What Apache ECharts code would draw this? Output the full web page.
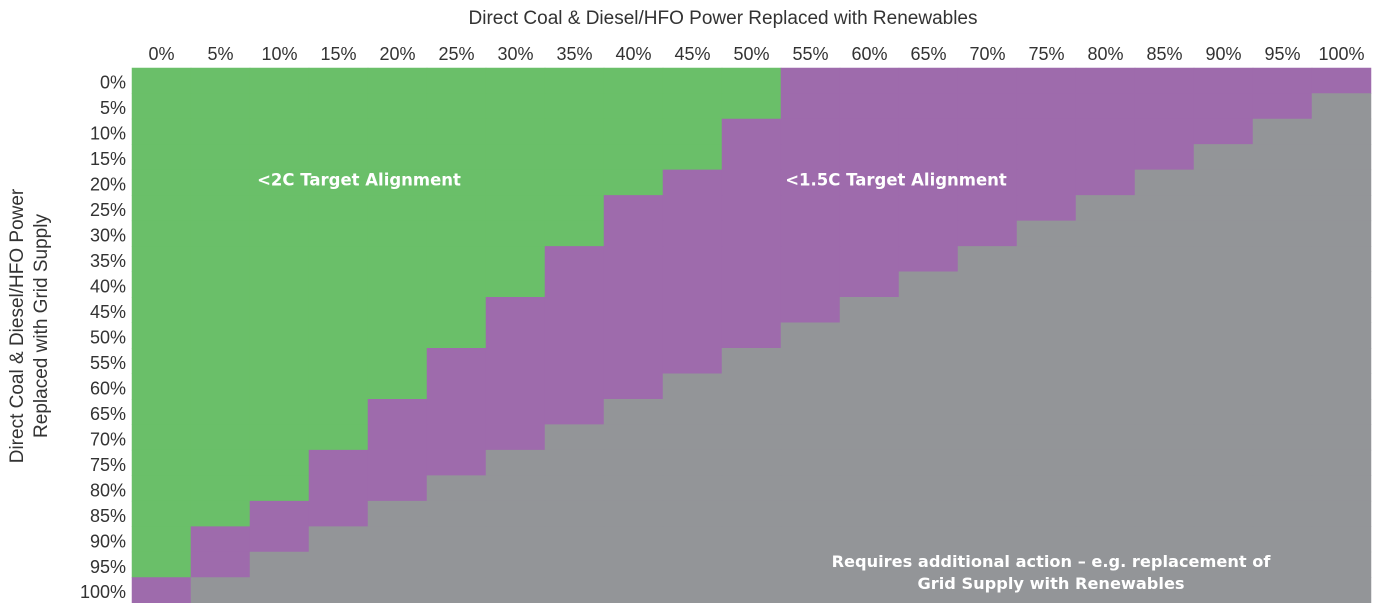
<!DOCTYPE html>
<html>
<head>
<meta charset="utf-8">
<script src="https://cdn.jsdelivr.net/npm/echarts@6/dist/echarts.min.js"></script>
<style>
html,body{margin:0;padding:0;background:#ffffff;}
#chart{width:1378px;height:603px;}
</style>
</head>
<body>
<div id="chart"></div>
<script>
// ---- data ----
const xLabels = ['0%','5%','10%','15%','20%','25%','30%','35%','40%','45%','50%','55%','60%','65%','70%','75%','80%','85%','90%','95%','100%'];
const yLabels = ['0%','5%','10%','15%','20%','25%','30%','35%','40%','45%','50%','55%','60%','65%','70%','75%','80%','85%','90%','95%','100%'];
// per row (grid-supply share), number of leading columns in the green zone
const greenCols = [11,11,10,10,9,8,8,7,7,6,6,5,5,4,4,3,3,2,1,1,0];
// per row, number of leading columns that are green or purple (not grey)
const alignedCols = [21,20,19,18,17,16,15,14,13,12,11,10,9,8,7,6,5,4,3,2,1];
const zoneNames = ['<2C Target Alignment','<1.5C Target Alignment','Requires additional action \u2013 e.g. replacement of\nGrid Supply with Renewables'];
const zoneColors = ['#6abf69','#9e6bac','#939598'];
const xTitle = 'Direct Coal & Diesel/HFO Power Replaced with Renewables';
const yTitle = 'Direct Coal & Diesel/HFO Power\nReplaced with Grid Supply';

// ---- build cells ----
const cells = [];
for (let r = 0; r < yLabels.length; r++) {
  for (let c = 0; c < xLabels.length; c++) {
    const v = c < greenCols[r] ? 0 : (c < alignedCols[r] ? 1 : 2);
    cells.push([c, r, v]);
  }
}

const FONT = 'Liberation Sans';
const BOLD = 'DejaVu Sans';
const chart = echarts.init(document.getElementById('chart'), null, {renderer: 'canvas', devicePixelRatio: 2});
chart.setOption({
  animation: false,
  backgroundColor: '#ffffff',
  textStyle: {fontFamily: FONT},
  grid: {left: 132, right: 7, top: 68, bottom: 0, containLabel: false},
  xAxis: {
    type: 'category',
    data: xLabels,
    position: 'top',
    axisLine: {show: false},
    axisTick: {show: false},
    splitArea: {show: false},
    axisLabel: {color: '#333333', fontSize: 18, lineHeight: 18, fontFamily: FONT, margin: 4, interval: 0}
  },
  yAxis: {
    type: 'category',
    data: yLabels,
    inverse: true,
    axisLine: {show: false},
    axisTick: {show: false},
    splitArea: {show: false},
    axisLabel: {color: '#333333', fontSize: 18, fontFamily: FONT, margin: 6, interval: 0, verticalAlign: 'top', lineHeight: 6}
  },
  visualMap: {
    type: 'piecewise',
    show: false,
    dimension: 2,
    pieces: zoneNames.map((n, i) => ({value: i, label: n, color: zoneColors[i]}))
  },
  series: [{
    type: 'heatmap',
    data: cells,
    itemStyle: {borderWidth: 0},
    emphasis: {disabled: true}
  }],
  graphic: [
    {type: 'text', x: 723, y: 19, z: 100,
     style: {text: xTitle, fill: '#333333', font: '19px "' + FONT + '"', textAlign: 'center', textVerticalAlign: 'middle'}},
    {type: 'text', x: 30, y: 326, z: 100, rotation: Math.PI / 2,
     style: {text: yTitle, fill: '#333333', font: '19px "' + FONT + '"', textAlign: 'center', textVerticalAlign: 'middle', lineHeight: 24}},
    {type: 'text', x: 359, y: 181, z: 100,
     style: {text: zoneNames[0], fill: '#ffffff', font: 'bold 16.5px "' + BOLD + '"', textAlign: 'center', textVerticalAlign: 'middle'}},
    {type: 'text', x: 896, y: 181, z: 100,
     style: {text: zoneNames[1], fill: '#ffffff', font: 'bold 16.5px "' + BOLD + '"', textAlign: 'center', textVerticalAlign: 'middle'}},
    {type: 'text', x: 1051, y: 574, z: 100,
     style: {text: zoneNames[2], fill: '#ffffff', font: 'bold 16.2px "' + BOLD + '"', textAlign: 'center', textVerticalAlign: 'middle', lineHeight: 22}}
  ]
});
</script>
</body>
</html>
